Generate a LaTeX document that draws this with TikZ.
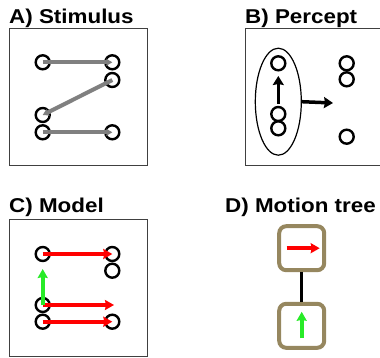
\documentclass[tikz,border=0pt]{standalone}
\usepackage{fontspec}
\setmainfont{Liberation Sans}
\usetikzlibrary{shapes.geometric, arrows.meta, positioning}
\definecolor{treecol}{RGB}{150,135,95}
\definecolor{brightgreen}{RGB}{40,235,40}
\newcommand{\paneltitle}[1]{\scalebox{1.12}[1]{#1}}

\begin{document}
\begin{tikzpicture}[x=1pt,y=-1pt,font=\bfseries\fontsize{20}{22}\selectfont,
  dot/.style={circle,draw,line width=2.4pt,minimum size=14pt,inner sep=0pt},
  frame/.style={draw=black!75,line width=1pt},
  title/.style={anchor=base west,inner sep=0pt},
  grayline/.style={draw=gray,line width=4pt,-{Stealth[length=6pt,width=7pt,inset=1pt]}},
  redarrow/.style={draw=red,line width=4pt,-{Stealth[length=9pt,width=10pt,inset=1pt]}},
  greenarrow/.style={draw=brightgreen,line width=4pt,-{Stealth[length=9pt,width=10pt,inset=1pt]}},
  blackarrow/.style={draw=black,line width=3.5pt,-{Stealth[length=9pt,width=11pt,inset=1pt]}},
  treebox/.style={draw=treecol,line width=4pt,rounded corners=7pt,minimum width=45pt,minimum height=44pt}]

\useasboundingbox (0,0) rectangle (380,358);

% A) Stimulus
\node[title] (tA) at (9,23.3) {\paneltitle{A) Stimulus}};
\draw[frame] (9,29) rectangle (147,166);
\node[dot] (a1) at (42.7,62.3) {};
\node[dot] (a2) at (112.3,62.3) {};
\node[dot] (a3) at (112.3,80) {};
\node[dot] (a4) at (42.7,115) {};
\node[dot] (a5) at (42.7,132.3) {};
\node[dot] (a6) at (112.3,132.3) {};
\draw[grayline] (a1.center) -- (a2.center);
\draw[grayline] (a3.center) -- (a4.center);
\draw[grayline] (a5.center) -- (a6.center);

% B) Percept
\node[title] (tB) at (245,23.3) {\paneltitle{B) Percept}};
\draw[frame] (245,29) rectangle (384,166);
\node[draw,ellipse,line width=1.2pt,minimum width=46pt,minimum height=107pt,inner sep=0pt] (grp) at (278.3,101.7) {};
\node[dot] (b1) at (278.3,63.3) {};
\node[dot] (b2) at (278.3,114) {};
\node[dot] (b3) at (278.3,128.3) {};
\node[dot] (b4) at (346.7,63.3) {};
\node[dot] (b5) at (346.7,79.3) {};
\node[dot] (b6) at (346.7,136.7) {};
\coordinate (up) at (278.3,104);
\coordinate (upend) at (278.3,76);
\coordinate (outend) at (333,103);
\draw[blackarrow] (up) -- (upend);
\draw[blackarrow] (grp.east) -- (outend);

% C) Model
\node[title] (tC) at (9,212.5) {\paneltitle{C) Model}};
\draw[frame] (9,219.3) rectangle (147,356);
\node[dot] (c1) at (42.7,254) {};
\node[dot] (c2) at (112.3,254) {};
\node[dot] (c3) at (112.3,270.7) {};
\node[dot] (c4) at (42.7,305) {};
\node[dot] (c5) at (42.7,321.7) {};
\node[dot] (c6) at (112.3,321.7) {};
\coordinate (cend) at (114,305);
\coordinate (gend) at (42.7,269);
\draw[redarrow] (c1.center) -- (c2.center);
\draw[redarrow] (c4.center) -- (cend);
\draw[redarrow] (c5.center) -- (c6.center);
\draw[greenarrow] (c4.center) -- (gend);

% D) Motion tree
\node[title] (tD) at (225,212.5) {\paneltitle{D) Motion tree}};
\node[treebox] (root) at (301.7,248.2) {};
\node[treebox] (leaf) at (301.7,325.8) {};
\draw[line width=3pt] (root) -- (leaf);
\draw[redarrow] ([xshift=-15pt]root.center) -- ([xshift=18pt]root.center);
\draw[greenarrow] ([yshift=-12.5pt]leaf.center) -- ([yshift=14pt]leaf.center);

\end{tikzpicture}
\end{document}
